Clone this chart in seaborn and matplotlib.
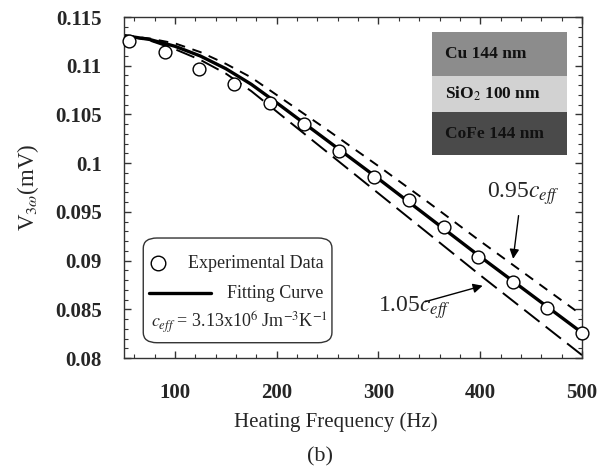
import matplotlib
matplotlib.use('Agg')
import matplotlib.pyplot as plt
import seaborn as sns
from matplotlib.patches import FancyBboxPatch, Rectangle
from matplotlib.ticker import MultipleLocator

# measured 3-omega voltage
freq_data = [55, 90, 124, 158, 193, 227, 261, 296, 330, 364, 398, 432, 466, 500]
v_data = [0.1125, 0.1114, 0.1097, 0.1081, 0.1062, 0.1040, 0.10125, 0.0986,
          0.0962, 0.0935, 0.0904, 0.0878, 0.0851, 0.0826]

# model curves
freq_fit = [50, 75, 100, 125, 150, 175, 200, 250, 300, 350, 400, 450, 500]
v_fit = [0.1131, 0.1127, 0.1120, 0.1110, 0.1097, 0.1081, 0.1062, 0.1023,
         0.0984, 0.0944, 0.0904, 0.0865, 0.0826]
v_095 = [0.1131, 0.1128, 0.1123, 0.1114, 0.1102, 0.1088, 0.1070, 0.1034,
         0.0997, 0.0959, 0.0920, 0.0882, 0.0844]
v_105 = [0.1131, 0.1126, 0.1117, 0.1106, 0.1092, 0.1074, 0.1053, 0.1011,
         0.0969, 0.0927, 0.0885, 0.0844, 0.0803]

layers = ['Cu 144 nm', 'SiO$_2$ 100 nm', 'CoFe 144 nm']
layer_colors = ['#8c8c8c', '#d2d2d2', '#4a4a4a']

sns.set_style('ticks')
plt.rcParams['font.family'] = ['Liberation Serif', 'DejaVu Serif']
plt.rcParams['mathtext.fontset'] = 'stix'

fig = plt.figure(figsize=(6.05, 4.73), dpi=100)
ax = fig.add_axes([0.205, 0.243, 0.757, 0.721])

sns.lineplot(x=freq_fit, y=v_095, color='black', lw=1.4, linestyle=(0, (5, 4)), ax=ax)
sns.lineplot(x=freq_fit, y=v_105, color='black', lw=1.4, linestyle=(0, (10, 4)), ax=ax)
sns.lineplot(x=freq_fit, y=v_fit, color='black', lw=2.4, ax=ax)
sns.scatterplot(x=freq_data, y=v_data, marker='o', s=85, facecolor='white',
                edgecolor='black', linewidth=1.0, zorder=5, clip_on=False, ax=ax)

ax.set_xlim(50, 500)
ax.set_ylim(0.08, 0.115)
ax.set_xticks([100, 200, 300, 400, 500])
ax.set_yticks([0.08, 0.085, 0.09, 0.095, 0.1, 0.105, 0.11, 0.115])
ax.set_yticklabels(['0.08', '0.085', '0.09', '0.095', '0.1', '0.105', '0.11', '0.115'])
ax.xaxis.set_minor_locator(MultipleLocator(20))
ax.yaxis.set_minor_locator(MultipleLocator(0.001))
ax.tick_params(which='both', direction='in', top=True, right=True, color='#333333')
ax.tick_params(which='major', length=5, width=1)
ax.tick_params(which='minor', length=3, width=0.8)
ax.tick_params(axis='y', pad=16, labelsize=15)
ax.tick_params(axis='x', pad=18, labelsize=15)
for lab in ax.get_xticklabels() + ax.get_yticklabels():
    lab.set_fontweight('bold')
for sp in ax.spines.values():
    sp.set_color('#333333')
    sp.set_linewidth(1.0)

ax.set_xlabel('Heating Frequency (Hz)', fontsize=15)
ax.xaxis.set_label_coords(0.463, -0.158)
ax.set_ylabel(r'V$_{3\omega}$(mV)', fontsize=16.5, labelpad=10)
fig.text(0.529, 0.034, '(b)', fontsize=16, ha='center', va='center')

# layer stack inset
tops = [0.956, 0.827, 0.721]
bots = [0.827, 0.721, 0.595]
for name, col, t, b in zip(layers, layer_colors, tops, bots):
    ax.add_patch(Rectangle((0.672, b), 0.295, t - b, transform=ax.transAxes,
                           facecolor=col, edgecolor='none', zorder=6))
    ax.text(0.70, (t + b) / 2, name, transform=ax.transAxes, fontsize=12.5,
            fontweight='bold', va='center', ha='left', color='#111111', zorder=7)

# legend box
ax.add_patch(FancyBboxPatch((0.042, 0.045), 0.412, 0.307, transform=ax.transAxes,
                            boxstyle='round,pad=0.0,rounding_size=0.03',
                            facecolor='white', edgecolor='#333333', lw=1.0, zorder=6))
ax.plot([0.075], [0.278], transform=ax.transAxes, marker='o', ms=10.5,
        mfc='white', mec='black', mew=1.0, zorder=7)
ax.text(0.435, 0.278, 'Experimental Data', transform=ax.transAxes, fontsize=13,
        ha='right', va='center', zorder=7)
ax.plot([0.055, 0.19], [0.19, 0.19], transform=ax.transAxes, color='black', lw=2.4, zorder=7)
ax.text(0.435, 0.19, 'Fitting Curve', transform=ax.transAxes, fontsize=13,
        ha='right', va='center', zorder=7)
ax.text(0.058, 0.105, r'$c_{eff}$ = 3.13x10$^{6}$ Jm$^{-3}$K$^{-1}$', transform=ax.transAxes,
        fontsize=13, ha='left', va='center', zorder=7)

# annotations
ax.annotate('', xy=(432, 0.0899), xytext=(438, 0.0949),
            arrowprops=dict(arrowstyle='-|>', color='black', lw=1.0, mutation_scale=14))
ax.text(407, 0.0965, r'0.95$c_{eff}$', fontsize=17, ha='left', va='baseline')
ax.annotate('', xy=(405, 0.0875), xytext=(343, 0.0857),
            arrowprops=dict(arrowstyle='-|>', color='black', lw=1.0, mutation_scale=14))
ax.text(300, 0.0848, r'1.05$c_{eff}$', fontsize=17, ha='left', va='baseline')

fig.savefig('out.png', dpi=100)
